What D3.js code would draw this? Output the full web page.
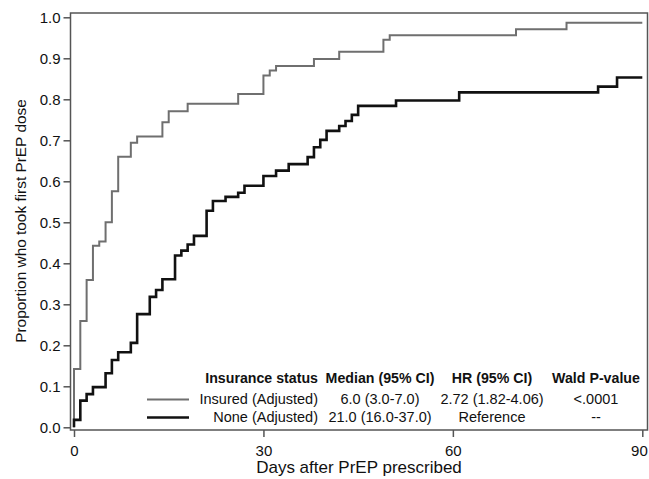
<!DOCTYPE html>
<html>
<head>
<meta charset="utf-8">
<script src="https://cdn.jsdelivr.net/npm/d3@7"></script>
<style>
  body { margin: 0; background: #fff; }
  svg { font-family: "Liberation Sans", Arial, sans-serif; }
</style>
</head>
<body>
<svg id="chart" width="649" height="479"></svg>
<script>
// Kaplan-Meier style step data (day of event, cumulative proportion)
const insuredDays = [0, 1, 2, 3, 4, 5, 6, 7, 9, 10, 14, 15, 18, 26, 30, 31, 32, 38, 42, 49, 50, 70, 78];
const insuredProp = [0.142, 0.259, 0.359, 0.443, 0.453, 0.5, 0.576, 0.66, 0.694, 0.709, 0.744, 0.771, 0.789, 0.813, 0.858, 0.87, 0.881, 0.898, 0.916, 0.945, 0.956, 0.971, 0.987];

const noneDays = [0, 1, 2, 3, 5, 6, 7, 9, 10, 12, 13, 14, 16, 17, 18, 19, 21, 22, 24, 26, 27, 30, 32, 34, 37, 38, 39, 40, 42, 43, 44, 45, 51, 61, 83, 86];
const noneProp = [0.018, 0.065, 0.081, 0.098, 0.132, 0.164, 0.183, 0.206, 0.276, 0.318, 0.335, 0.361, 0.419, 0.431, 0.446, 0.467, 0.528, 0.552, 0.562, 0.572, 0.589, 0.613, 0.626, 0.642, 0.659, 0.683, 0.701, 0.723, 0.735, 0.747, 0.762, 0.784, 0.797, 0.817, 0.831, 0.853];

const xTicks = [0, 30, 60, 90];
const yTicks = [0, 0.1, 0.2, 0.3, 0.4, 0.5, 0.6, 0.7, 0.8, 0.9, 1.0];

const legendHeader = ["Insurance status", "Median (95% CI)", "HR (95% CI)", "Wald P-value"];
const legendRows = [
  ["Insured (Adjusted)", "6.0 (3.0-7.0)", "2.72 (1.82-4.06)", "<.0001"],
  ["None (Adjusted)", "21.0 (16.0-37.0)", "Reference", "--"]
];
const seriesColors = ["#6f6f6f", "#111"];
const seriesWidths = [2, 2.6];

const svg = d3.select("#chart");

// frame of the plot area
const frame = { left: 70.5, top: 13, right: 647.5, bottom: 430 };

const x = d3.scaleLinear().domain([0, 90]).range([74, 642.3]);
const y = d3.scaleLinear().domain([0, 1]).range([427.3, 17.3]);

// axes
const yAxis = svg.append("g")
  .attr("transform", `translate(${frame.left},0)`)
  .call(d3.axisLeft(y).tickValues(yTicks).tickFormat(d3.format(".1f")).tickSize(7).tickPadding(3));
const xAxis = svg.append("g")
  .attr("transform", `translate(0,${frame.bottom})`)
  .call(d3.axisBottom(x).tickValues(xTicks).tickFormat(d3.format("d")).tickSize(7).tickPadding(8));

[yAxis, xAxis].forEach((g) => {
  g.select(".domain").remove();
  g.selectAll(".tick line").attr("stroke", "#555").attr("stroke-width", 1.5);
  g.selectAll(".tick text").attr("fill", "#111").attr("font-size", 15)
    .attr("font-family", "'Liberation Sans', Arial, sans-serif");
});
// last x label sits against the right edge
xAxis.selectAll(".tick text").filter((d) => d === 90).attr("text-anchor", "end").attr("dx", 5);

svg.append("rect")
  .attr("x", frame.left).attr("y", frame.top)
  .attr("width", frame.right - frame.left).attr("height", frame.bottom - frame.top)
  .attr("fill", "none").attr("stroke", "#555").attr("stroke-width", 1.5);

// step curves
const line = d3.line()
  .x((d) => x(d[0]))
  .y((d) => y(d[1]))
  .curve(d3.curveStepAfter);

function stepPoints(days, props) {
  const pts = [[0, 0]];
  days.forEach((d, i) => pts.push([d, props[i]]));
  pts.push([90, props[props.length - 1]]);
  return pts;
}

const series = [stepPoints(insuredDays, insuredProp), stepPoints(noneDays, noneProp)];

svg.append("g")
  .selectAll("path")
  .data(series)
  .join("path")
  .attr("d", line)
  .attr("fill", "none")
  .attr("stroke", (d, i) => seriesColors[i])
  .attr("stroke-width", (d, i) => seriesWidths[i]);

// axis titles
svg.append("text")
  .attr("x", (frame.left + frame.right) / 2)
  .attr("y", 473)
  .attr("text-anchor", "middle")
  .attr("font-size", 17)
  .attr("fill", "#111")
  .text("Days after PrEP prescribed");

svg.append("text")
  .attr("transform", `translate(26,221) rotate(-90)`)
  .attr("text-anchor", "middle")
  .attr("font-size", 15.4)
  .attr("fill", "#111")
  .text("Proportion who took first PrEP dose");

// legend table
const colX = [318, 380, 492, 596];
const colAnchor = ["end", "middle", "middle", "middle"];

const legend = svg.append("g").attr("font-size", 14.5).attr("fill", "#111");

legend.selectAll("text.head")
  .data(legendHeader)
  .join("text")
  .attr("class", "head")
  .attr("x", (d, i) => colX[i])
  .attr("y", 383)
  .attr("text-anchor", (d, i) => colAnchor[i])
  .attr("font-weight", "bold")
  .attr("font-size", 14.2)
  .text((d) => d);

const rowY = [404, 422];
legendRows.forEach((row, r) => {
  legend.append("line")
    .attr("x1", 147).attr("x2", 189)
    .attr("y1", rowY[r] - 4.5).attr("y2", rowY[r] - 4.5)
    .attr("stroke", seriesColors[r])
    .attr("stroke-width", seriesWidths[r]);
  legend.selectAll(null)
    .data(row)
    .join("text")
    .attr("x", (d, i) => colX[i])
    .attr("y", rowY[r])
    .attr("text-anchor", (d, i) => colAnchor[i])
    .text((d) => d);
});
</script>
</body>
</html>
